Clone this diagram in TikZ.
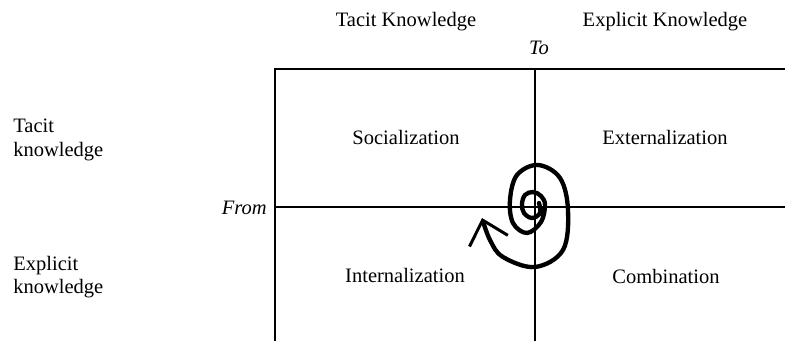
\documentclass[tikz,border=0pt]{standalone}
\usepackage{fontspec}
\setmainfont{Liberation Serif}
\usetikzlibrary{arrows.meta}
\tikzset{
  rule/.style={line width=0.8pt},
  axis/.style={line width=1.4pt},
  swirl/.style={line width=2.6pt,line cap=round,-{Straight Barb[length=13pt,width=24pt,line width=1.8pt]}},
  lbl/.style={font=\fontsize{12.3}{14}\selectfont,inner sep=0pt},
  side/.style={lbl,align=left,anchor=north west}
}

\begin{document}
\begin{tikzpicture}[x=0.6pt,y=-0.6pt]
\useasboundingbox (0,0) rectangle (785,341);
% grid corners
\coordinate (tl) at (275,69); \coordinate (tr) at (785,69);
\coordinate (ml) at (275,207); \coordinate (mr) at (785,207);
\coordinate (bl) at (275,341);
\coordinate (tm) at (535,69); \coordinate (bm) at (535,341);
\draw[rule] (tr) -- (tl) -- (bl);
\draw[rule] (ml) -- (mr);
\draw[axis] (tm) -- (bm);
% headings
\node[lbl] (tacitH) at (406,22) {Tacit Knowledge};
\node[lbl] (explH) at (665,22) {Explicit Knowledge};
\node[lbl,font=\fontsize{12.3}{14}\selectfont\itshape] (to) at (539,47.5) {To};
\node[lbl,anchor=east,font=\fontsize{12.3}{14}\selectfont\itshape] (from) at (267,207.5) {From};
\node[side] (tacitS) at (13,119) {Tacit\\knowledge};
\node[side] (explS) at (13,256) {Explicit\\knowledge};
% quadrants
\node[lbl] (soc) at (406,137.5) {Socialization};
\node[lbl] (ext) at (665,137.5) {Externalization};
\node[lbl] (int) at (405,275.5) {Internalization};
\node[lbl] (com) at (666,276) {Combination};
% spiral
\draw[swirl] plot[smooth,tension=0.6] coordinates {
  (539,203) (540,213) (532,218) (524,213) (522,204) (525,195) (533,192)
  (541,196) (545,205) (541,222) (527,233) (513,223) (510,200) (517,175)
  (538,165) (560,178) (568,210) (563,250) (535,267) (503,257) (490,240) (482,218)};
\end{tikzpicture}
\end{document}
